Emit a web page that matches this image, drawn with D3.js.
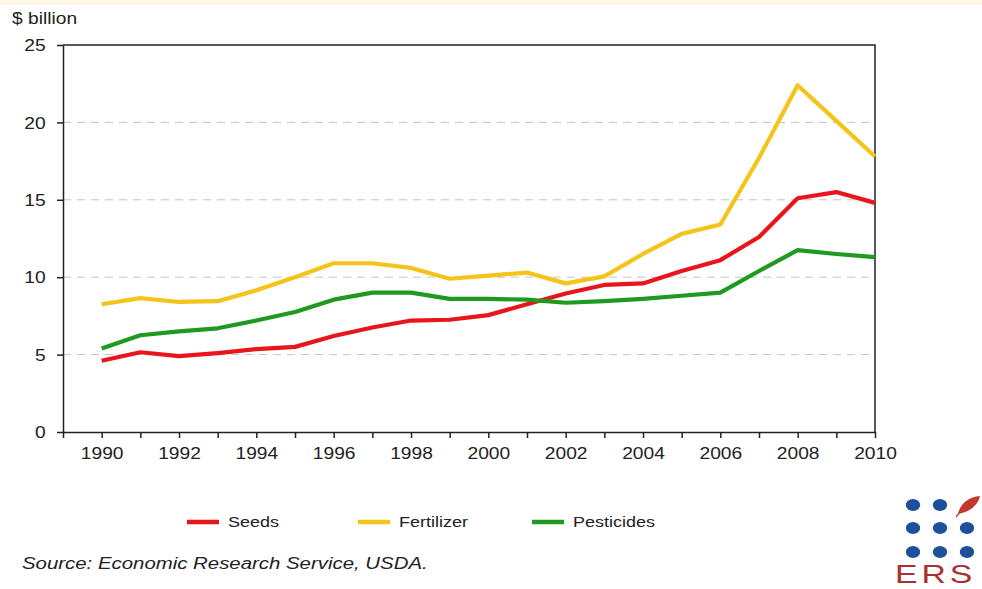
<!DOCTYPE html>
<html>
<head>
<meta charset="utf-8">
<script src="https://cdn.jsdelivr.net/npm/d3@7"></script>
<style>
  html, body { margin: 0; padding: 0; background: #ffffff; }
  svg { display: block; }
  text { font-family: "Liberation Sans", Arial, sans-serif; fill: #222; }
</style>
</head>
<body>
<svg id="chart" width="982" height="589"></svg>
<script>
// Farm input expenditures, $ billion
const years = [1990, 1991, 1992, 1993, 1994, 1995, 1996, 1997, 1998, 1999, 2000,
               2001, 2002, 2003, 2004, 2005, 2006, 2007, 2008, 2009, 2010];
const seeds = [4.6, 5.15, 4.9, 5.1, 5.35, 5.5, 6.2, 6.75, 7.2, 7.25, 7.55,
               8.25, 8.95, 9.5, 9.6, 10.4, 11.1, 12.6, 15.1, 15.5, 14.8];
const fertilizer = [8.25, 8.65, 8.4, 8.45, 9.15, 10.0, 10.9, 10.9, 10.6, 9.9, 10.1,
                    10.3, 9.6, 10.05, 11.5, 12.8, 13.4, 17.7, 22.4, 20.1, 17.8];
const pesticides = [5.4, 6.25, 6.5, 6.7, 7.2, 7.75, 8.55, 9.0, 9.0, 8.6, 8.6,
                    8.55, 8.35, 8.45, 8.6, 8.8, 9.0, 10.4, 11.75, 11.5, 11.3];
const seriesNames = ["Seeds", "Fertilizer", "Pesticides"];
const seriesColors = ["#e8161b", "#f4c41a", "#1f991f"];
const xTickYears = [1989, 1990, 1991, 1992, 1993, 1994, 1995, 1996, 1997, 1998, 1999,
                    2000, 2001, 2002, 2003, 2004, 2005, 2006, 2007, 2008, 2009, 2010];
const xLabelYears = [1990, 1992, 1994, 1996, 1998, 2000, 2002, 2004, 2006, 2008, 2010];
const yTicks = [0, 5, 10, 15, 20, 25];
const yGridValues = [5, 10, 15, 20];
const yUnitLabel = "$ billion";
const sourceNote = "Source: Economic Research Service, USDA.";

const series = [seeds, fertilizer, pesticides];
const svg = d3.select("#chart");
const stretch = "scale(1.2,1)";

// faint band along the top edge
svg.append("rect").attr("x", 0).attr("y", 0).attr("width", 982).attr("height", 5)
  .attr("fill", "#fbf8e8");

const plotLeft = 63, plotRight = 875, plotTop = 45, plotBottom = 432;
const x = d3.scaleLinear().domain([1989, 2010]).range([plotLeft, plotRight]);
const y = d3.scaleLinear().domain([0, 25]).range([plotBottom, plotTop]);

// dashed horizontal gridlines
svg.append("g").selectAll("line").data(yGridValues).join("line")
  .attr("x1", plotLeft).attr("x2", plotRight)
  .attr("y1", d => y(d)).attr("y2", d => y(d))
  .attr("stroke", "#c4c4c4").attr("stroke-width", 1)
  .attr("stroke-dasharray", "8,6");

// plot frame: top and right edges
svg.append("path")
  .attr("d", `M${plotLeft},${y(25)}H${plotRight}V${plotBottom}`)
  .attr("fill", "none").attr("stroke", "#222").attr("stroke-width", 1.5);

// y axis
const yAxis = svg.append("g").attr("transform", `translate(${plotLeft},0)`)
  .call(d3.axisLeft(y).tickValues(yTicks).tickSize(6).tickSizeOuter(0));
yAxis.select(".domain").attr("stroke", "#222").attr("stroke-width", 1.5);
yAxis.selectAll(".tick line").attr("stroke", "#222").attr("stroke-width", 1.5);
yAxis.selectAll(".tick text")
  .attr("x", -14.5).attr("dy", "0.36em")
  .attr("transform", stretch)
  .style("font-size", "16px").style("font-family", "Liberation Sans, Arial, sans-serif")
  .attr("fill", "#222");

// x axis
const xAxis = svg.append("g").attr("transform", `translate(0,${plotBottom})`)
  .call(d3.axisBottom(x).tickValues(xTickYears).tickSize(6).tickSizeOuter(0)
    .tickFormat(d => xLabelYears.includes(d) ? String(d) : ""));
xAxis.select(".domain").attr("stroke", "#222").attr("stroke-width", 1.5);
xAxis.selectAll(".tick line").attr("stroke", "#222").attr("stroke-width", 1.5);
xAxis.selectAll(".tick text")
  .attr("y", 16).attr("dy", "0.71em")
  .attr("transform", stretch)
  .style("font-size", "16px").style("font-family", "Liberation Sans, Arial, sans-serif")
  .attr("fill", "#222");

// unit label
svg.append("text").attr("transform", `translate(12,24) ${stretch}`)
  .style("font-size", "16px").text(yUnitLabel);

// data lines
const line = d3.line().x((d, i) => x(years[i])).y(d => y(d));
svg.append("g").selectAll("path").data(series).join("path")
  .attr("d", line)
  .attr("fill", "none")
  .attr("stroke", (d, i) => seriesColors[i])
  .attr("stroke-width", 4.2)
  .attr("stroke-linejoin", "round");

// legend
const legendX = [187, 358, 532];
const legend = svg.append("g").selectAll("g").data(seriesNames).join("g")
  .attr("transform", (d, i) => `translate(${legendX[i]},522)`);
legend.append("line").attr("x1", 0).attr("x2", 32).attr("y1", 0).attr("y2", 0)
  .attr("stroke", (d, i) => seriesColors[i]).attr("stroke-width", 4.5);
legend.append("text").attr("transform", `translate(41,0) ${stretch}`)
  .attr("dy", "0.36em").style("font-size", "15px").text(d => d);

// source note
svg.append("text").attr("transform", `translate(22,569) ${stretch}`)
  .style("font-size", "17px").style("font-style", "italic").text(sourceNote);

// ERS logo
const logo = svg.append("g");
const dotCols = [913, 940, 967], dotRows = [505, 528, 552];
dotRows.forEach((ry, r) => dotCols.forEach((cx, c) => {
  if (r === 0 && c === 2) return;
  logo.append("ellipse").attr("cx", cx).attr("cy", ry).attr("rx", 7.2).attr("ry", 6)
    .attr("fill", "#1d4f9c");
}));
logo.append("path")
  .attr("d", "M958,514 C960,504 968,497 980,496 C978,505 970,512 958,514 Z")
  .attr("fill", "#c0392b");
logo.append("path").attr("d", "M956,517 L961,511").attr("stroke", "#c0392b").attr("stroke-width", 1.2);
logo.append("text").attr("transform", "translate(895,583) scale(1.3,1)")
  .style("font-size", "26px").style("letter-spacing", "3px")
  .style("fill", "#a83232").text("ERS");
</script>
</body>
</html>
